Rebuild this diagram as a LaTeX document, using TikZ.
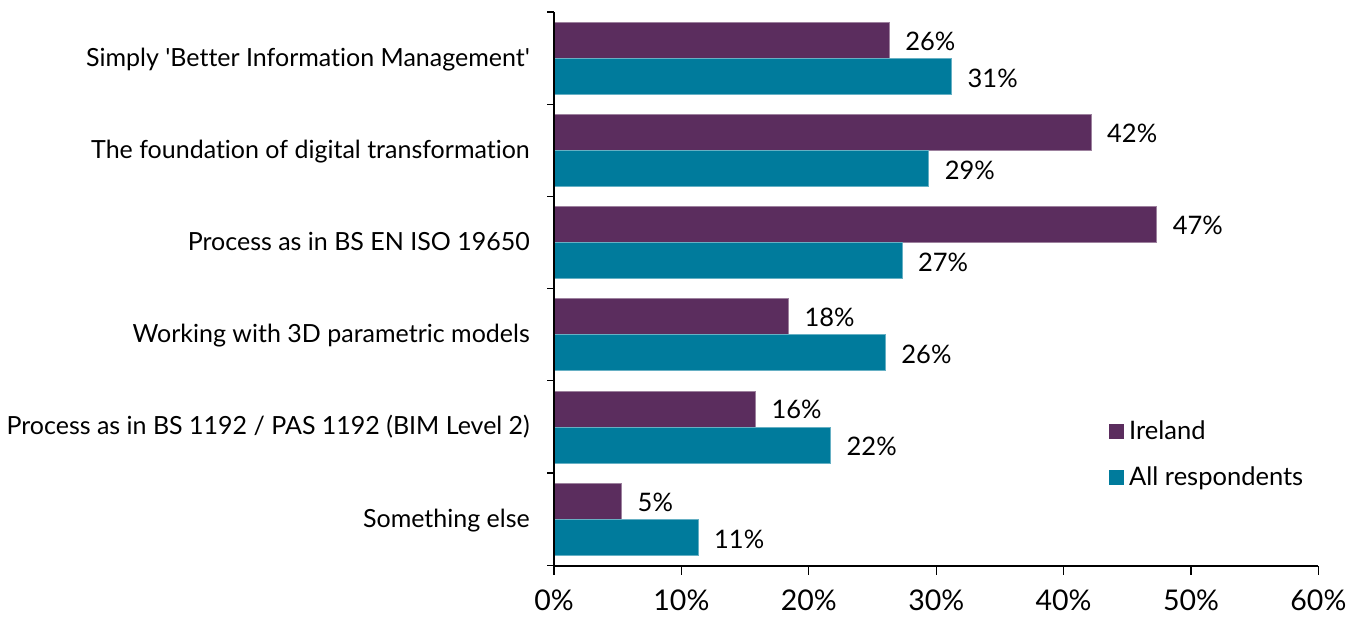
\documentclass[tikz,border=0pt]{standalone}
\usepackage{fontspec}
\setmainfont{Lato}[Ligatures={NoCommon}]
\definecolor{irl}{HTML}{5B2D5E}
\definecolor{allr}{HTML}{007B9C}
\begin{document}
\begin{tikzpicture}[x=1pt,y=-1pt,
  catlab/.style={anchor=base east,font=\fontsize{25}{28}\selectfont,inner sep=0pt},
  vallab/.style={anchor=base west,font=\fontsize{25.5}{28}\selectfont,inner sep=0pt},
  ticklab/.style={anchor=base,font=\fontsize{28.5}{32}\selectfont,inner sep=0pt},
  irlbar/.style={fill=irl,draw=irl!60!white,line width=0.6pt},
  allbar/.style={fill=allr,draw=allr!60!white,line width=0.6pt},
  axisline/.style={line width=1.3pt,black}]
\useasboundingbox (0,0) rectangle (1370,616);
\def\sx{12.74}
\def\band{92.2}
\foreach \i/\lab/\a/\b/\ta/\tb in {
 0/{Simply \textquotesingle Better Information Management\textquotesingle}/26.3/31.2/26/31,
 1/{The foundation of digital transformation}/42.15/29.4/42/29,
 2/{Process as in BS EN ISO 19650}/47.3/27.3/47/27,
 3/{Working with 3D parametric models}/18.4/26.0/18/26,
 4/{Process as in BS 1192 / PAS 1192 (BIM Level 2)}/15.8/21.7/16/22,
 5/{Something else}/5.3/11.3/5/11}{
  \pgfmathsetmacro{\top}{12+\i*\band}
  \path[irlbar] (554,\top+10) rectangle (554+\a*\sx,\top+46);
  \path[allbar] (554,\top+46) rectangle (554+\b*\sx,\top+82);
  \node[catlab] (c\i) at (530,\top+54) {\lab};
  \node[vallab] (va\i) at (554+\a*\sx+16,\top+38) {\ta\%};
  \node[vallab] (vb\i) at (554+\b*\sx+16,\top+75) {\tb\%};
}
\draw[axisline] (554,12) -- (554,566) -- (1318,566);
\foreach \i in {0,...,6}{
  \draw[axisline] (547,12+\i*\band) -- (554,12+\i*\band);
  \draw[axisline] (554+\i*127.4,566) -- (554+\i*127.4,575);
  \pgfmathtruncatemacro{\pc}{\i*10}
  \node[ticklab] (t\i) at (554+\i*127.4,610) {\pc\%};
}
\fill[irl] (1109,424) rectangle (1124,439);
\node[vallab] (li) at (1129,439) {Ireland};
\fill[allr] (1109,470) rectangle (1124,485);
\node[vallab] (la) at (1129,485) {All respondents};
\end{tikzpicture}
\end{document}
